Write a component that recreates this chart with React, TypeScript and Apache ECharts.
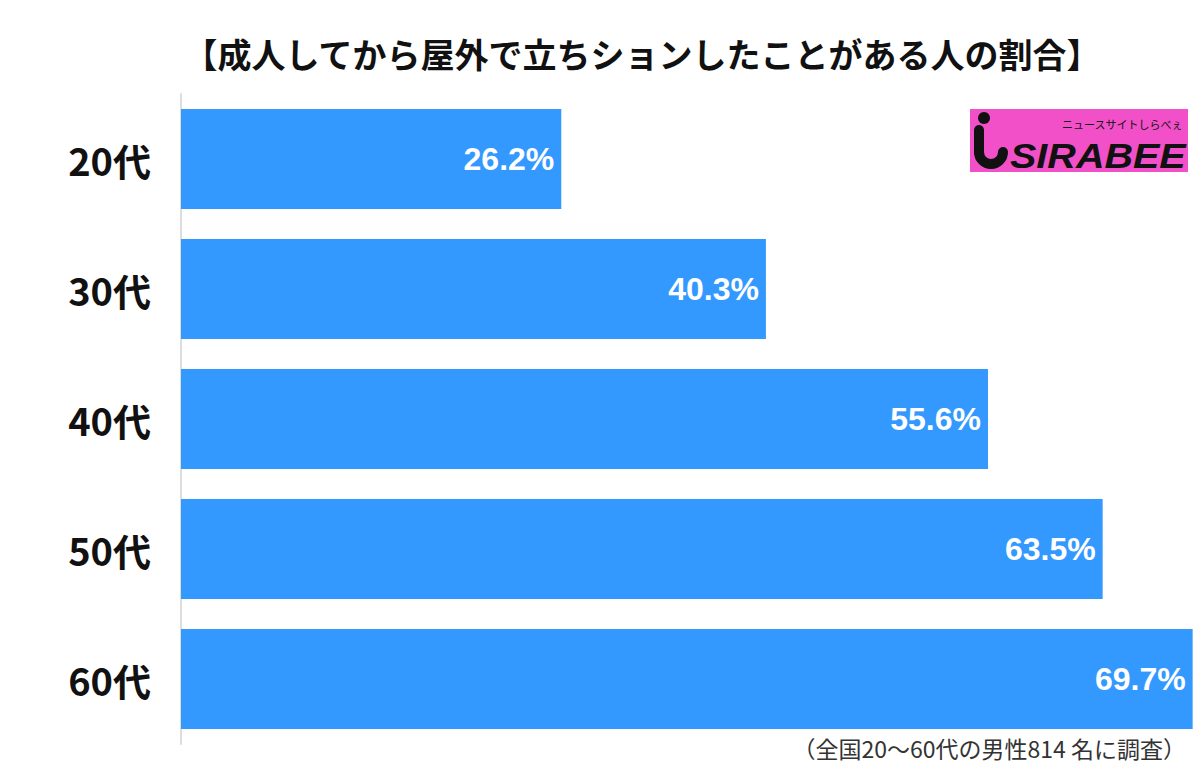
import React, { useEffect, useRef } from "react";
import * as echarts from "echarts";

const categories = ["20代", "30代", "40代", "50代", "60代"];
const values = [26.2, 40.3, 55.6, 63.5, 69.7];
const title = "【成人してから屋外で立ちションしたことがある人の割合】";
const footnote = "（全国20〜60代の男性814 名に調査）";

export default function App() {
  const ref = useRef<HTMLDivElement>(null);
  useEffect(() => {
    if (!ref.current) return;
    const chart = echarts.init(ref.current, null, { renderer: "svg" });
    chart.setOption({
      animation: false,
      backgroundColor: "#ffffff",
      title: {
        text: title,
        left: 637,
        textAlign: "center",
        top: 31,
        textStyle: {
          fontFamily: "Noto Sans CJK JP",
          fontWeight: "bold",
          fontSize: 34,
          color: "#111",
        },
      },
      grid: { left: 181, top: 94, width: 1016, height: 650 },
      xAxis: {
        type: "value",
        min: 0,
        max: 70,
        show: false,
      },
      yAxis: {
        type: "category",
        data: categories,
        inverse: true,
        axisLine: { show: true, lineStyle: { color: "#dddddd", width: 2 } },
        axisTick: { show: false },
        axisLabel: {
          margin: 30,
          fontFamily: "Noto Sans CJK JP",
          fontWeight: "bold",
          fontSize: 38,
          color: "#111",
        },
      },
      series: [
        {
          type: "bar",
          data: values,
          barWidth: 100,
          itemStyle: { color: "#3399ff" },
          label: {
            show: true,
            position: "insideRight",
            distance: 7,
            formatter: (p: any) => p.value.toFixed(1) + "%",
            fontFamily: "Liberation Sans",
            fontWeight: "bold",
            fontSize: 32,
            color: "#ffffff",
          },
        },
      ],
      graphic: [
        {
          type: "text",
          right: 14,
          top: 736,
          style: {
            text: footnote,
            fontFamily: "Noto Sans CJK JP",
            fontSize: 23,
            fill: "#333",
          },
        },
        {
          type: "group",
          children: [
            { type: "rect", shape: { x: 970, y: 109, width: 218, height: 63 }, style: { fill: "#f250c8" } },
            { type: "circle", shape: { cx: 984, cy: 118, r: 6 }, style: { fill: "#111" } },
            { type: "line", shape: { x1: 979, y1: 130, x2: 979, y2: 152 }, style: { stroke: "#111", lineWidth: 10, lineCap: "round" } },
            { type: "arc", shape: { cx: 991, cy: 152, r: 12, startAngle: 0, endAngle: Math.PI, clockwise: true }, style: { stroke: "#111", lineWidth: 10, fill: "none", lineCap: "round" } },
            {
              type: "text",
              x: 1010,
              y: 156,
              scaleX: 1.13,
              style: {
                text: "SIRABEE",
                fontFamily: "Liberation Sans",
                fontWeight: "bold",
                fontStyle: "italic",
                fontSize: 35,
                fill: "#111",
                textVerticalAlign: "middle",
              },
            },
            {
              type: "text",
              x: 1062,
              y: 124,
              style: {
                text: "ニュースサイトしらべぇ",
                fontFamily: "Noto Sans CJK JP",
                fontSize: 11,
                fill: "#111",
                textVerticalAlign: "middle",
              },
            },
          ],
        },
      ],
    });
    return () => chart.dispose();
  }, []);
  return (
    <div
      ref={ref}
      style={{ position: "fixed", left: 0, top: 0, width: 1200, height: 777 }}
    />
  );
}
